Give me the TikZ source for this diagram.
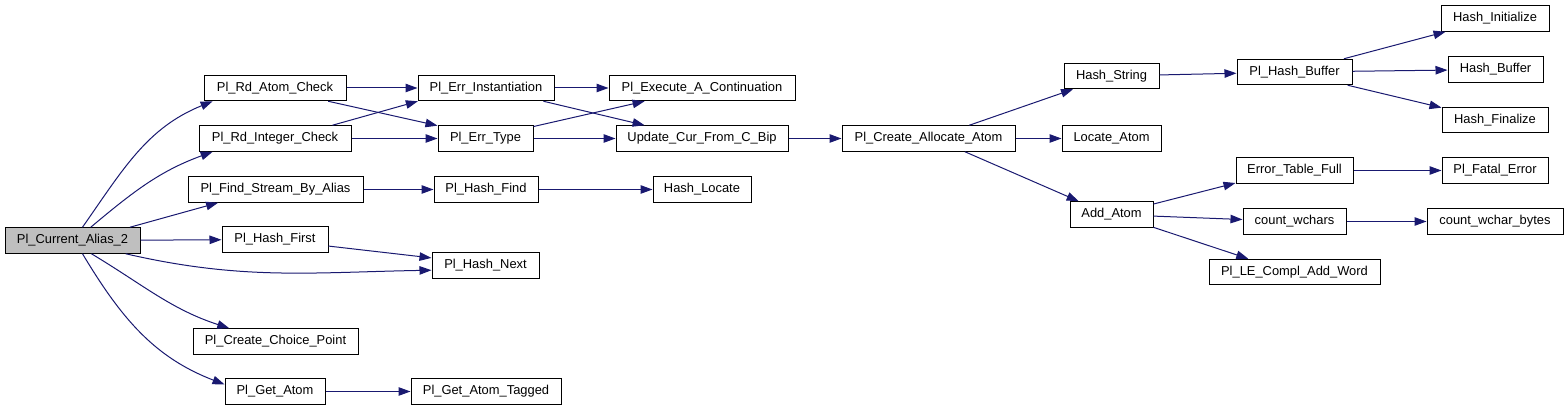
\documentclass[tikz,border=0pt]{standalone}
\usepackage{fontspec}
\setmainfont{Liberation Sans}
\usepackage{tikz}
\usetikzlibrary{arrows.meta}
\definecolor{edgeblue}{HTML}{191970}
\definecolor{rootgray}{HTML}{BFBFBF}

\begin{document}
\begin{tikzpicture}[->,>={Triangle[length=12pt,width=8.5pt]},x=1pt,y=-1pt,
		line width=1pt]
		\tikzstyle{fn}=[draw=black,fill=white,rectangle,inner sep=0pt,minimum height=25.5pt,
		font=\fontsize{12.9}{15}\selectfont]
		\tikzstyle{every edge}=[draw=edgeblue,line width=1pt]
		\useasboundingbox (0,0) rectangle (1568,411);
		
		\node[fn,fill=rootgray,minimum width=135] (s0) at (72.5,240.5) {Pl\_Current\_Alias\_2};
		
		\node[fn,minimum width=142] (s11) at (275,88)    {Pl\_Rd\_Atom\_Check};
		\node[fn,minimum width=152] (s12) at (275,138.5) {Pl\_Rd\_Integer\_Check};
		\node[fn,minimum width=175] (s13) at (275.5,189.5) {Pl\_Find\_Stream\_By\_Alias};
		\node[fn,minimum width=106] (s14) at (275,239.5) {Pl\_Hash\_First};
		\node[fn,minimum width=165] (s15) at (275.5,341.5) {Pl\_Create\_Choice\_Point};
		\node[fn,minimum width=100] (s16) at (275,391.5) {Pl\_Get\_Atom};
		
		\node[fn,minimum width=136] (s21) at (486,88)    {Pl\_Err\_Instantiation};
		\node[fn,minimum width=95]  (s22) at (485.5,138.5) {Pl\_Err\_Type};
		\node[fn,minimum width=104] (s23) at (486,189.5) {Pl\_Hash\_Find};
		\node[fn,minimum width=107] (s24) at (485.5,265.5) {Pl\_Hash\_Next};
		\node[fn,minimum width=150] (s25) at (486,391.5) {Pl\_Get\_Atom\_Tagged};
		
		\node[fn,minimum width=186] (s31) at (702,88)    {Pl\_Execute\_A\_Continuation};
		\node[fn,minimum width=172] (s32) at (702,138.5) {Update\_Cur\_From\_C\_Bip};
		\node[fn,minimum width=98]  (s33) at (702,189.5) {Hash\_Locate};
		
		\node[fn,minimum width=173] (s4) at (928.5,138.5) {Pl\_Create\_Allocate\_Atom};
		
		\node[fn,minimum width=95] (s51) at (1111.5,76)    {Hash\_String};
		\node[fn,minimum width=99] (s52) at (1111.5,138.5) {Locate\_Atom};
		\node[fn,minimum width=83] (s53) at (1111.5,214.5) {Add\_Atom};
		
		\node[fn,minimum width=115] (s61) at (1294.5,72)    {Pl\_Hash\_Buffer};
		\node[fn,minimum width=117] (s62) at (1294.5,170.5) {Error\_Table\_Full};
		\node[fn,minimum width=103] (s63) at (1294.5,221.5) {count\_wchars};
		\node[fn,minimum width=171] (s64) at (1294.5,272)   {Pl\_LE\_Compl\_Add\_Word};
		
		\node[fn,minimum width=108] (s71) at (1495,18.5)  {Hash\_Initialize};
		\node[fn,minimum width=95]  (s72) at (1495.5,69.5) {Hash\_Buffer};
		\node[fn,minimum width=106] (s73) at (1495,120)   {Hash\_Finalize};
		\node[fn,minimum width=106] (s74) at (1495,170.5) {Pl\_Fatal\_Error};
		\node[fn,minimum width=136] (s75) at (1495,221.5) {count\_wchar\_bytes};
		
		
		\path (s0.53) edge[out=55,in=202]  (s11.192)
		(s0.36)  edge[out=40,in=200]  (s12.192)
		(s0.13)  edge                 (s13.193)
		(s0)     edge                 (s14)
		(s0.-14) edge[out=-13,in=181] (s24.185)
		(s0.-35) edge[out=-31,in=162] (s15.164)
		(s0.-53) edge[out=-59,in=159] (s16.172)
		
		(s11) edge (s21)
		(s11.-14) edge (s22.165)
		(s12.13)  edge (s21.191)
		(s12) edge (s22)
		(s13) edge (s23)
		(s14.-7) edge (s24.172)
		(s16) edge (s25)
		
		(s21) edge (s31)
		(s21.-13) edge (s32.167)
		(s22.14)  edge (s31.193)
		(s22) edge (s32)
		(s23) edge (s33)
		(s32) edge (s4)
		
		(s4.18)  edge (s51.199)
		(s4)     edge (s52)
		(s4.-20) edge (s53.158)
		
		(s51) edge (s61)
		(s53.14)  edge (s62.192)
		(s53) edge (s63)
		(s53.-17) edge (s64.164)
		
		(s61.15)  edge (s71.195)
		(s61) edge (s72)
		(s61.-14) edge (s73.167)
		(s62) edge (s74)
		(s63) edge (s75);
\end{tikzpicture}
\end{document}
